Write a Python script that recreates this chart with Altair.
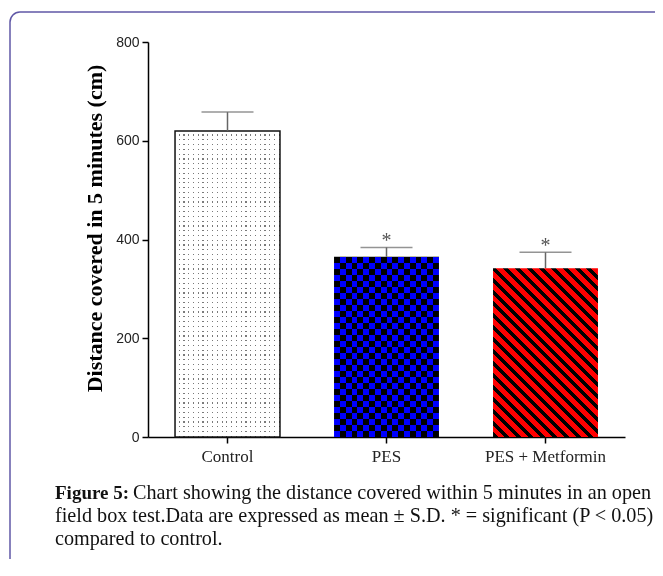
import altair as alt
import pandas as pd

# ---- data ----
groups = ["Control", "PES", "PES + Metformin"]
means = [620, 365, 342]
sds = [38, 19, 32]
sig = ["", "*", "*"]

y_ticks = [0, 200, 400, 600, 800]
y_title = "Distance covered in 5 minutes (cm)"
caption_bold = "Figure 5:"
caption_lines = [
    "Chart showing the distance covered within 5 minutes in an open",
    "field box test.Data are expressed as mean \u00b1 S.D. * = significant (P < 0.05)",
    "compared to control.",
]

df = pd.DataFrame({"group": groups, "mean": means, "sd": sds, "sig": sig})


# ---- pattern helpers (gradients with hard stops) ----
def stripes(segments, n, x1, y1, x2, y2):
    stops = []
    for k in range(n):
        pos = k / n
        for color, frac in segments:
            stops.append(alt.GradientStop(offset=round(min(pos, 1), 5), color=color))
            pos += frac / n
            stops.append(alt.GradientStop(offset=round(min(pos, 1), 5), color=color))
    return alt.LinearGradient(gradient="linear", stops=stops, x1=x1, y1=y1, x2=x2, y2=y2)


dot_v = stripes([("#ffffff", 0.75), ("#7a7a7a", 0.25)], 22, 0, 0, 1, 0)
dot_h = stripes([("#ffffff", 0.75), ("#7a7a7a", 0.25)], 64, 0, 0, 0, 1)
chk_v = stripes([("#0000ff", 0.5), ("#000000", 0.5)], 9, 0, 0, 1, 0)
chk_h = stripes([("#0000ff", 0.5), ("#000000", 0.5)], 15, 0, 0, 0, 1)
diag = stripes([("#000000", 0.42), ("#ff0000", 0.58)], 23, 0, 1, 0.727, -0.17)

serif = "Liberation Serif, Times New Roman, serif"
narrow = "Liberation Sans Narrow, Arial Narrow, Liberation Sans, sans-serif"
frame_color = "#5f57a6"

x_enc = alt.X(
    "group:N",
    sort=groups,
    scale=alt.Scale(paddingInner=0.34, paddingOuter=0.17),
    axis=alt.Axis(
        title=None, labelAngle=0, labelFont=serif, labelFontSize=17,
        labelColor="#222222", labelPadding=5, tickSize=6, tickWidth=1.5,
        tickColor="black", domainColor="black", domainWidth=1.5,
    ),
)
y_enc = alt.Y(
    "mean:Q",
    scale=alt.Scale(domain=[0, 800], nice=False),
    axis=alt.Axis(
        values=y_ticks, title=y_title, titleFont=serif, titleFontWeight="bold",
        titleFontSize=22, titleColor="black", titlePadding=9, titleY=186,
        labelFont=narrow, labelFontSize=14, labelColor="#222222", labelPadding=3,
        tickSize=6, tickWidth=1.5, tickColor="black", domainColor="black",
        domainWidth=1.5, grid=False,
    ),
)

base = alt.Chart(df).transform_calculate(upper="datum.mean + datum.sd")


def bar_layer(group, **kw):
    return base.transform_filter(alt.datum.group == group).mark_bar(**kw).encode(x=x_enc, y=y_enc)


ctrl_v = bar_layer("Control", fill=dot_v)
ctrl_h = bar_layer("Control", fill=dot_h, blend="lighten")
ctrl_s = bar_layer("Control", fillOpacity=0, stroke="#111111", strokeWidth=1.5)
pes_v = bar_layer("PES", fill=chk_v)
pes_h = bar_layer("PES", fill=chk_h, blend="difference")
met = bar_layer("PES + Metformin", fill=diag)

err = base.mark_rule(color="#666666", strokeWidth=1.5).encode(
    x=x_enc, y=alt.Y("mean:Q"), y2="upper:Q"
)
cap = base.mark_tick(color="#666666", size=52, thickness=1.5).encode(
    x=x_enc, y=alt.Y("upper:Q")
)
stars = base.mark_text(
    font=serif, fontSize=20, color="#555555", baseline="alphabetic", dy=0
).encode(x=x_enc, y=alt.Y("upper:Q"), text="sig:N")

one = alt.Data(values=[{"k": 1}])
frame_top = alt.Chart(one).mark_rule(color=frame_color, strokeWidth=1.5).encode(
    x=alt.value(-128), x2=alt.value(700), y=alt.value(-30)
)
frame_left = alt.Chart(one).mark_rule(color=frame_color, strokeWidth=1.5).encode(
    x=alt.value(-138), y=alt.value(-20), y2=alt.value(700)
)
frame_corner = alt.Chart(one).mark_arc(
    color=frame_color, theta=4.712, theta2=6.283, innerRadius=9.25, outerRadius=10.75
).encode(x=alt.value(-128), y=alt.value(-20))

cap_b = alt.Chart(one).mark_text(
    text=caption_bold, font=serif, fontSize=19, fontWeight="bold", align="left",
    baseline="alphabetic", color="#111111",
).encode(x=alt.value(-93), y=alt.value(457))
cap1 = alt.Chart(one).mark_text(
    text=caption_lines[0], font=serif, fontSize=20.2, align="left",
    baseline="alphabetic", color="#111111",
).encode(x=alt.value(-15), y=alt.value(457))
cap2 = alt.Chart(one).mark_text(
    text=caption_lines[1], font=serif, fontSize=20.2, align="left",
    baseline="alphabetic", color="#111111",
).encode(x=alt.value(-93), y=alt.value(480))
cap3 = alt.Chart(one).mark_text(
    text=caption_lines[2], font=serif, fontSize=20.2, align="left",
    baseline="alphabetic", color="#111111",
).encode(x=alt.value(-93), y=alt.value(503))

chart = alt.layer(
    frame_top, frame_left, frame_corner,
    ctrl_v, ctrl_h, ctrl_s, pes_v, pes_h, met, err, cap, stars,
    cap_b, cap1, cap2, cap3,
).properties(
    width=477, height=395,
    autosize=alt.AutoSizeParams(type="none"),
    padding={"left": 140, "top": 34, "right": 30, "bottom": 122},
).configure(background="white").configure_view(stroke=None)

chart.save("out.html", embed_options={"renderer": "svg", "actions": False})
